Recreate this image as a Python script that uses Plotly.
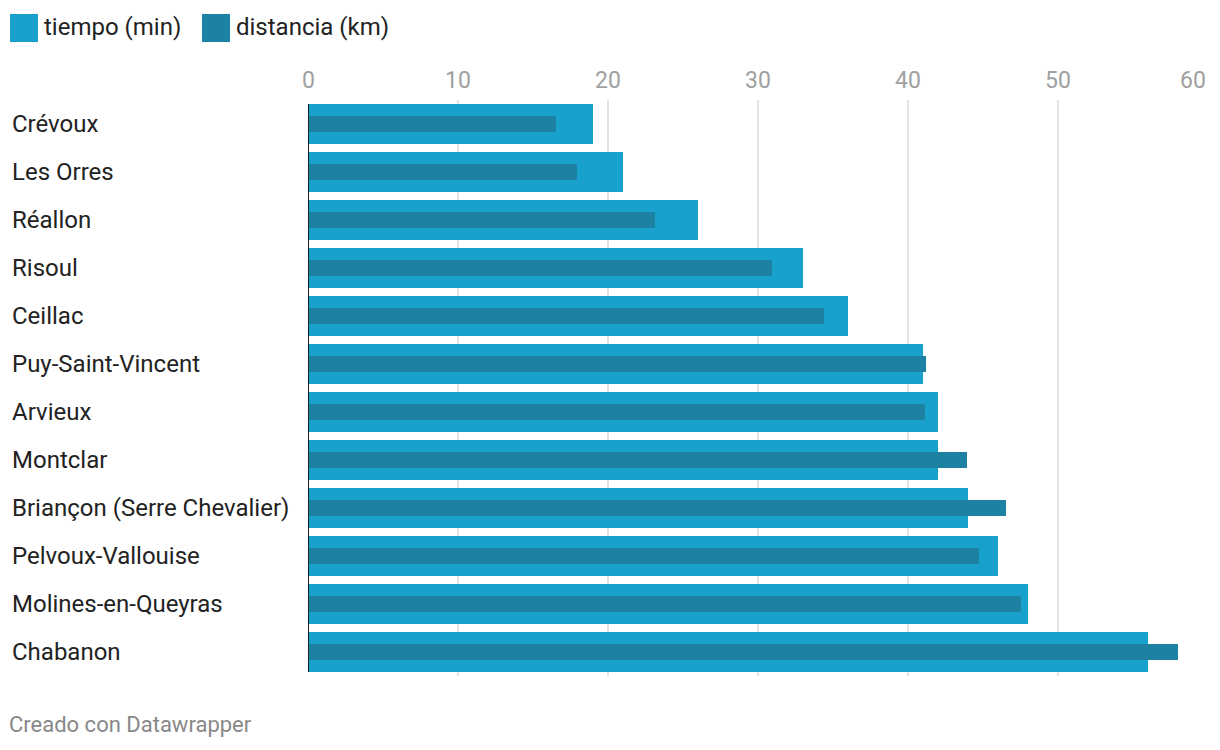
import plotly.graph_objects as go

categories = ["Crévoux", "Les Orres", "Réallon", "Risoul", "Ceillac", "Puy-Saint-Vincent",
              "Arvieux", "Montclar", "Briançon (Serre Chevalier)", "Pelvoux-Vallouise",
              "Molines-en-Queyras", "Chabanon"]
tiempo_min = [19, 21, 26, 33, 36, 41, 42, 42, 44, 46, 48, 56]
distancia_km = [16.5, 17.9, 23.1, 30.9, 34.4, 41.2, 41.1, 43.9, 46.5, 44.7, 47.5, 58]
tick_values = [0, 10, 20, 30, 40, 50, 60]
tick_labels = ["0", "10", "20", "30", "40", "50", "60"]

C_T = "#19a1cd"
C_D = "#1d81a2"
FONT = "Roboto"

OFF = 8  # page body margin
W, H = 1204, 734
ML, MT = 308 - OFF, 100 - OFF
MR = W - (1208 - OFF)
MB = H - (676 - OFF)
PW = W - ML - MR
PH = H - MT - MB

fig = go.Figure()
fig.add_trace(go.Bar(y=categories, x=tiempo_min, orientation="h", marker_color=C_T,
                     marker_line_width=0, width=40/48, name="tiempo (min)", showlegend=False))
fig.add_trace(go.Bar(y=categories, x=distancia_km, orientation="h", marker_color=C_D,
                     marker_line_width=0, width=16/48, name="distancia (km)", showlegend=False))


def px_x(p):
    return (p - OFF - ML) / PW


def px_y(p):
    return 1 - (p - OFF - MT) / PH


annotations = []
for v, t in zip(tick_values, tick_labels):
    annotations.append(dict(x=v, xref="x", y=px_y(81), yref="paper", yanchor="middle",
                            xanchor="right" if v == tick_values[-1] else "center",
                            text=t, showarrow=False,
                            font=dict(family=FONT, size=23, color="#a0a0a0")))
for c in categories:
    annotations.append(dict(x=px_x(10), xref="paper", y=c, yref="y",
                            xanchor="left", yanchor="middle", text=c, showarrow=False,
                            font=dict(family=FONT, size=24, color="#222222")))

shapes = []
leg = [("tiempo (min)", C_T, 10), ("distancia (km)", C_D, 202)]
for name, col, x0 in leg:
    shapes.append(dict(type="rect", xref="paper", yref="paper",
                       x0=px_x(x0), x1=px_x(x0 + 28), y0=px_y(42), y1=px_y(14),
                       fillcolor=col, line=dict(width=0)))
    annotations.append(dict(x=px_x(x0 + 32), xref="paper", y=px_y(27), yref="paper",
                            xanchor="left", yanchor="middle", text=name, showarrow=False,
                            font=dict(family=FONT, size=24, color="#222222")))

annotations.append(dict(x=px_x(7), xref="paper", y=px_y(724), yref="paper",
                        xanchor="left", yanchor="middle", text="Creado con Datawrapper",
                        showarrow=False, font=dict(family=FONT, size=22, color="#888888")))

# baseline
shapes.append(dict(type="line", xref="x", yref="y", x0=0, x1=0, y0=-0.5 + 4/48,
                   y1=len(categories) - 0.5 - 4/48, line=dict(color="#222222", width=2)))

fig.update_layout(
    width=W, height=H, margin=dict(l=ML, r=MR, t=MT, b=MB),
    paper_bgcolor="white", plot_bgcolor="white",
    barmode="overlay", bargap=0,
    font=dict(family=FONT),
    xaxis=dict(range=[0, 60], tickvals=tick_values, showticklabels=False,
               showgrid=True, gridcolor="#e3e3e3", gridwidth=2, zeroline=False,
               showline=False, fixedrange=True),
    yaxis=dict(categoryorder="array", categoryarray=categories,
               showticklabels=False, showgrid=False, zeroline=False, showline=False,
               range=[len(categories) - 0.5, -0.5]),
    annotations=annotations, shapes=shapes,
)

fig.write_html("out.html")
